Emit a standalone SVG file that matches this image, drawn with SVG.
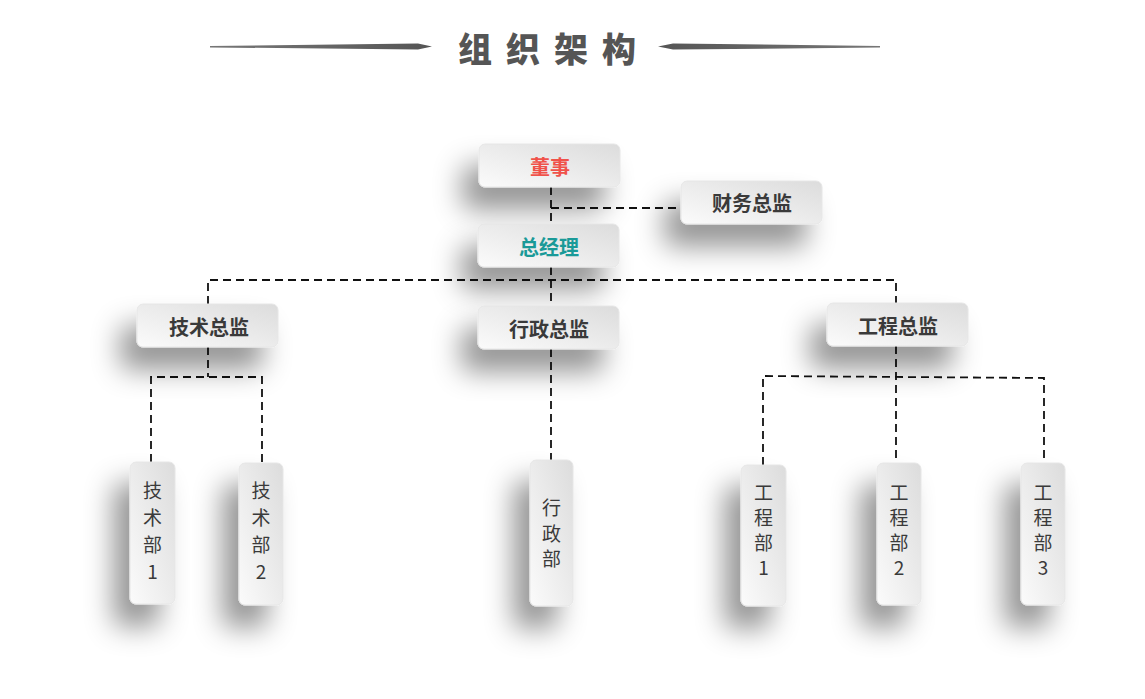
<svg xmlns="http://www.w3.org/2000/svg" width="1145" height="699" viewBox="0 0 1145 699">
<defs>
<linearGradient id="boxg" x1="0" y1="1" x2="1" y2="0">
<stop offset="0" stop-color="#fbfbfb"/>
<stop offset="1" stop-color="#dcdcdc"/>
</linearGradient>
<linearGradient id="lineL" x1="0" y1="0" x2="1" y2="0">
<stop offset="0" stop-color="#777"/>
<stop offset="1" stop-color="#555"/>
</linearGradient>
<linearGradient id="lineR" x1="1" y1="0" x2="0" y2="0">
<stop offset="0" stop-color="#777"/>
<stop offset="1" stop-color="#555"/>
</linearGradient>
<filter id="sh" x="-150%" y="-80%" width="400%" height="300%">
<feDropShadow dx="-16" dy="22" stdDeviation="14" flood-color="#000" flood-opacity="0.42"/>
</filter>
</defs>
<style>
.box{fill:url(#boxg);stroke:#e6e6e6;stroke-width:1;filter:url(#sh)}
.lbl{font-family:"Noto Sans CJK SC","Noto Sans",sans-serif;font-weight:bold;font-size:20px;fill:#3a3a3a;text-anchor:middle}
.leaf{font-family:"Noto Sans CJK SC","Noto Sans",sans-serif;font-size:19px;fill:#3a3a3a;text-anchor:middle}
.dash{fill:none;stroke:#111;stroke-width:1.8;stroke-dasharray:8 5}
.title{font-family:"Noto Sans CJK SC","Noto Sans",sans-serif;font-weight:900;font-size:34px;fill:#555}
</style>
<rect width="1145" height="699" fill="#fff"/>
<g id="title">
<path d="M210,46 L418,43.5 L432,46.6 L418,49.6 L210,47.4 Z" fill="url(#lineL)"/>
<path d="M880,46 L673,43.5 L658,46.6 L673,49.6 L880,47.4 Z" fill="url(#lineR)"/>
<text class="title" x="458 506 554 602" y="62">组织架构</text>
</g>
<g id="connectors">
<path class="dash" d="M551,187 V224"/>
<path class="dash" d="M551,208 H681"/>
<path class="dash" d="M551,267 V306"/>
<path class="dash" d="M208,304 V280 H896 V303"/>
<path class="dash" d="M208,347 V377"/>
<path class="dash" d="M151,462 V377 H262 V463"/>
<path class="dash" d="M551,349 V460"/>
<path class="dash" d="M896,346 V463"/>
<path class="dash" d="M763,465 V376 L1044,378 V463"/>
</g>
<g id="n-dongshi">
<rect class="box" x="479" y="144" width="141" height="43" rx="6"/>
<text class="lbl" x="550" y="175" style="fill:#f0524a">董事</text>
</g>
<g id="n-caiwu">
<rect class="box" x="681" y="181" width="141" height="43" rx="6"/>
<text class="lbl" x="752" y="211">财务总监</text>
</g>
<g id="n-zongjingli">
<rect class="box" x="478" y="224" width="141" height="43" rx="6"/>
<text class="lbl" x="549" y="255" style="fill:#1a9a98">总经理</text>
</g>
<g id="n-jishuzongjian">
<rect class="box" x="137" y="304" width="141" height="43" rx="6"/>
<text class="lbl" x="209" y="335">技术总监</text>
</g>
<g id="n-xingzhengzongjian">
<rect class="box" x="478" y="306" width="141" height="43" rx="6"/>
<text class="lbl" x="549" y="337">行政总监</text>
</g>
<g id="n-gongchengzongjian">
<rect class="box" x="827" y="303" width="141" height="43" rx="6"/>
<text class="lbl" x="898" y="334">工程总监</text>
</g>
<g id="n-jishu1">
<rect class="box" x="130" y="462" width="45" height="142" rx="6"/>
<text class="leaf"><tspan x="152.5" y="498">技</tspan><tspan x="152.5" y="525">术</tspan><tspan x="152.5" y="552">部</tspan><tspan x="152.5" y="579">1</tspan></text>
</g>
<g id="n-jishu2">
<rect class="box" x="239" y="463" width="44" height="142" rx="6"/>
<text class="leaf"><tspan x="261" y="498">技</tspan><tspan x="261" y="525">术</tspan><tspan x="261" y="552">部</tspan><tspan x="261" y="579">2</tspan></text>
</g>
<g id="n-xingzheng">
<rect class="box" x="530" y="460" width="43" height="146" rx="6"/>
<text class="leaf"><tspan x="551.5" y="515">行</tspan><tspan x="551.5" y="541">政</tspan><tspan x="551.5" y="566">部</tspan></text>
</g>
<g id="n-gongcheng1">
<rect class="box" x="741" y="465" width="45" height="141" rx="6"/>
<text class="leaf"><tspan x="763.5" y="500">工</tspan><tspan x="763.5" y="525">程</tspan><tspan x="763.5" y="550">部</tspan><tspan x="763.5" y="575">1</tspan></text>
</g>
<g id="n-gongcheng2">
<rect class="box" x="877" y="463" width="44" height="142" rx="6"/>
<text class="leaf"><tspan x="899" y="500">工</tspan><tspan x="899" y="525">程</tspan><tspan x="899" y="550">部</tspan><tspan x="899" y="575">2</tspan></text>
</g>
<g id="n-gongcheng3">
<rect class="box" x="1021" y="463" width="44" height="142" rx="6"/>
<text class="leaf"><tspan x="1043" y="500">工</tspan><tspan x="1043" y="525">程</tspan><tspan x="1043" y="550">部</tspan><tspan x="1043" y="575">3</tspan></text>
</g>
</svg>
